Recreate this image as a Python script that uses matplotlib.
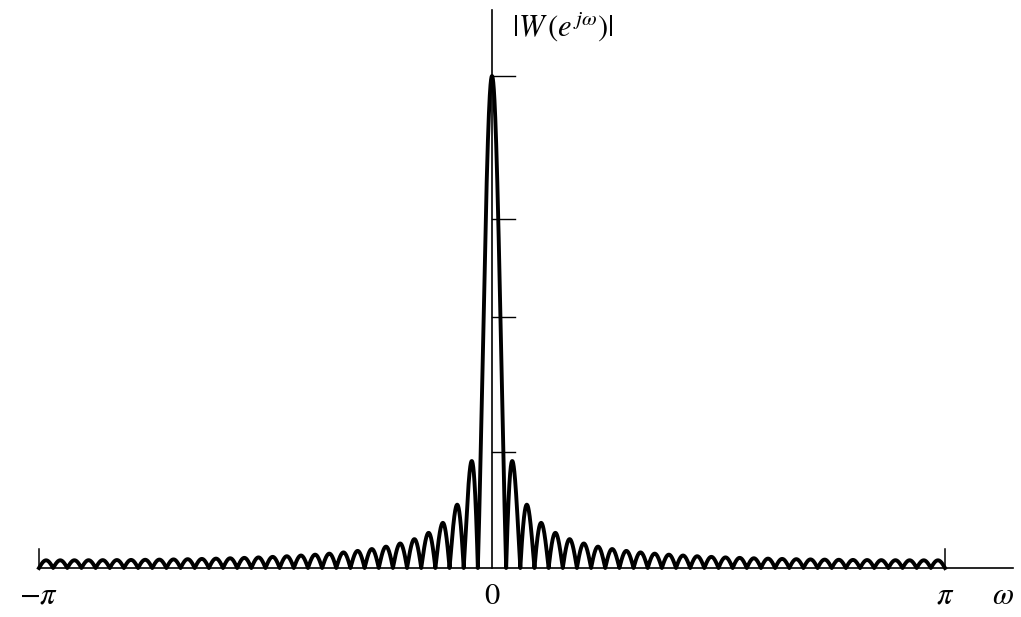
import numpy as np
import matplotlib
matplotlib.use("Agg")
import matplotlib.pyplot as plt

plt.rcParams['mathtext.fontset'] = 'stix'
plt.rcParams['font.family'] = ['STIXGeneral', 'DejaVu Serif']

window = np.ones(64)
nfft = 16384

# y-axis tick heights as fractions of the peak
tick_frac = [0.236, 0.51, 0.709, 1.0]

x_labels = [r'$-\pi$', r'$0$', r'$\pi$']
x_label_pos = [-np.pi, 0.0, np.pi]

# magnitude of the DTFT, sampled on a dense grid
W = np.abs(np.fft.fftshift(np.fft.fft(window, nfft)))
omega = np.fft.fftshift(np.fft.fftfreq(nfft)) * 2 * np.pi
omega = np.append(omega, np.pi)
W = np.append(W, W[0])
peak = W.max()

# pixel mapping of the reference: omega=0 at x=492, pi spans 453 px,
# baseline at y=568 px, peak at y=76 px
px_per_rad = 453 / np.pi
px_per_unit = (568 - 76) / peak

fig = plt.figure(figsize=(10.21, 6.17), dpi=100)
ax = fig.add_axes([0, 0, 1, 1])
ax.set_xlim(-492 / px_per_rad, (1021 - 492) / px_per_rad)
ax.set_ylim(-(617 - 568) / px_per_unit, 568 / px_per_unit)
ax.axis('off')

ax.plot(omega, W, color='black', lw=2.8, solid_joinstyle='round')

# axes
ax.plot([-np.pi, 1013 / px_per_rad - 492 / px_per_rad], [0, 0], color='black', lw=1.2)
ax.plot([0, 0], [0, (568 - 10) / px_per_unit], color='black', lw=1.2)
for xe in [-np.pi, np.pi]:
    ax.plot([xe, xe], [0, 19 / px_per_unit], color='black', lw=1.1)

tick_len = 23 / px_per_rad
for f in tick_frac:
    ax.plot([0, tick_len], [f * peak, f * peak], color='black', lw=1.0)

# labels
y_lab = -(597 - 568) / px_per_unit
for pos, lab in zip(x_label_pos, x_labels):
    ax.text(pos, y_lab, lab, ha='center', va='center', fontsize=22)
ax.text((1003 - 492) / px_per_rad, y_lab, r'$\omega$', ha='center', va='center', fontsize=22)
ax.text((512 - 492) / px_per_rad, (568 - 27) / px_per_unit, r'$|W\,(e^{\,j\omega})|$',
        ha='left', va='center', fontsize=22)

fig.savefig('out.png', dpi=100, facecolor='white')
